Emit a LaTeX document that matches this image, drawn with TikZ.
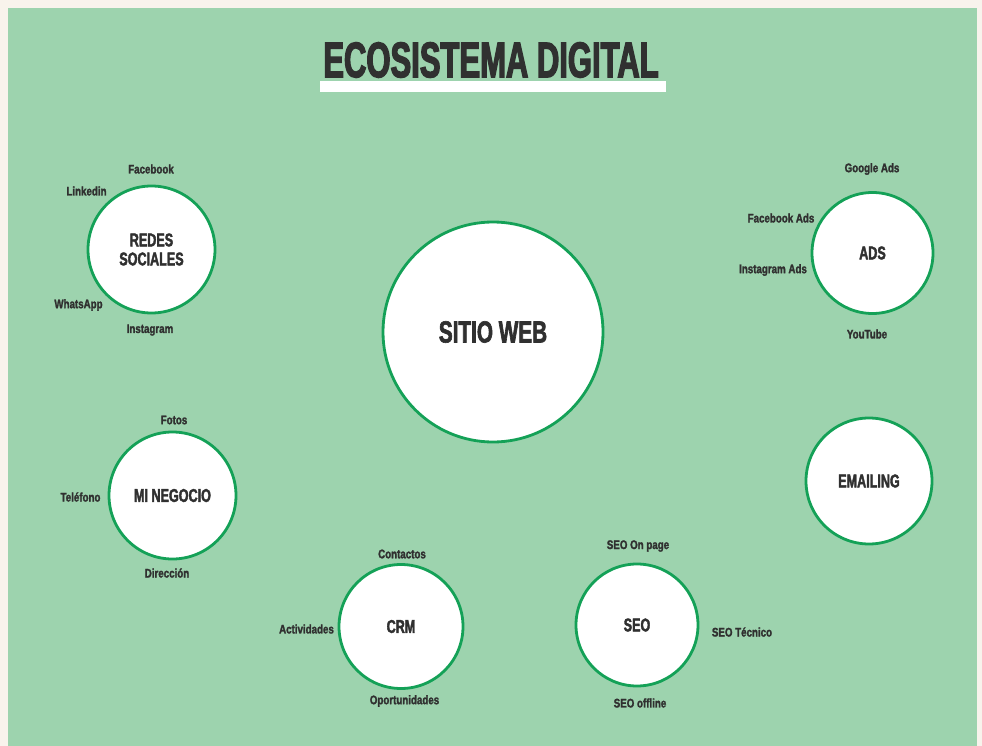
\documentclass[tikz,border=0pt]{standalone}
\usepackage{fontspec}
\setmainfont{Liberation Sans}
\newfontfamily\titlef{Liberation Sans}[FakeStretch=0.62,FakeBold=2.5]
\newfontfamily\circf{Liberation Sans}[FakeStretch=0.68,FakeBold=2]
\newfontfamily\labf{Liberation Sans}[FakeStretch=0.78,FakeBold=1.8]
\definecolor{bgg}{HTML}{9DD3AE}
\definecolor{cream}{HTML}{F8F3EC}
\definecolor{ring}{HTML}{14A157}
\definecolor{ink}{HTML}{303030}
\tikzset{
  bubble/.style={circle, draw=ring, line width=2.8pt, fill=white, inner sep=0pt,
    minimum size=#1, text=ink, align=center,
    font=\circf\bfseries\fontsize{18.5}{20}\selectfont},
  lab/.style={inner sep=0pt, text=ink, font=\labf\bfseries\fontsize{12.5}{13}\selectfont},
}
\begin{document}
\begin{tikzpicture}[x=1pt,y=-1pt]
\useasboundingbox (0,0) rectangle (982,746);
\fill[cream] (0,0) rectangle (982,746);
\fill[bgg] (8,8) rectangle (977,746);
% title
\node[inner sep=0pt, text=ink, font=\titlef\bfseries\fontsize{50}{50}\selectfont] (title) at (491,60) {ECOSISTEMA DIGITAL};
\fill[white] (320,81) rectangle (666,92.5);
% main circle
\node[bubble=220pt, font=\circf\bfseries\fontsize{30.5}{32}\selectfont] (web) at (493,332) {SITIO WEB};
% redes sociales
\node[bubble=127pt] (redes) at (151.5,249.5) {REDES\\[-1pt]SOCIALES};
\node[lab] (fb) at (151,169) {Facebook};
\node[lab] (li) at (86.5,191) {Linkedin};
\node[lab] (wa) at (78.5,305) {WhatsApp};
\node[lab] (ig) at (150,330) {Instagram};
% ads
\node[bubble=121pt] (ads) at (872.5,253) {ADS};
\node[lab] (gads) at (872,169) {Google Ads};
\node[lab] (fads) at (781,218) {Facebook Ads};
\node[lab] (iads) at (773,270) {Instagram Ads};
\node[lab] (yt) at (867,334) {YouTube};
% mi negocio
\node[bubble=127pt] (neg) at (172.5,495.5) {MI NEGOCIO};
\node[lab] (fotos) at (174,420) {Fotos};
\node[lab] (tel) at (80.5,497) {Teléfono};
\node[lab] (dir) at (167,573) {Dirección};
% emailing
\node[bubble=126pt] (mail) at (869,481) {EMAILING};
% crm
\node[bubble=124pt] (crm) at (401,626.5) {CRM};
\node[lab] (cont) at (402,554) {Contactos};
\node[lab] (act) at (306.5,629) {Actividades};
\node[lab] (opo) at (404.5,701) {Oportunidades};
% seo
\node[bubble=122pt] (seo) at (637,625) {SEO};
\node[lab] (onp) at (638,546) {SEO On page};
\node[lab] (tec) at (742,632) {SEO Técnico};
\node[lab] (off) at (640,703) {SEO offline};
\end{tikzpicture}
\end{document}
